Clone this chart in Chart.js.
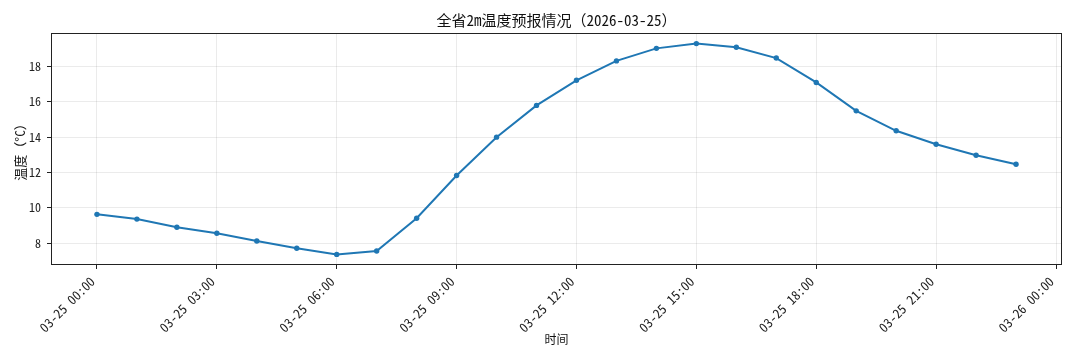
<!DOCTYPE html>
<html><head><meta charset="utf-8">
<script src="https://cdn.jsdelivr.net/npm/chart.js@4"></script>
<style>html,body{margin:0;padding:0;background:#fff}#wrap{width:1080px;height:360px}</style>
</head><body><div id="wrap"><canvas id="c" width="1080" height="360"></canvas></div>
<script>
const titleText = '全省2m温度预报情况（2026-03-25）';
const xTitle = '时间';
const yTitle = '温度（°C）';
const hours = [0,1,2,3,4,5,6,7,8,9,10,11,12,13,14,15,16,17,18,19,20,21,22,23];
const temps = [9.63,9.36,8.90,8.56,8.12,7.71,7.36,7.55,9.41,11.83,14.00,15.80,17.22,18.32,19.03,19.30,19.09,18.48,17.10,15.49,14.36,13.60,12.98,12.47];
const tickHours = [0,3,6,9,12,15,18,21,24];
const tickLabels = ['03-25 00:00','03-25 03:00','03-25 06:00','03-25 09:00','03-25 12:00','03-25 15:00','03-25 18:00','03-25 21:00','03-26 00:00'];
const yTicks = [8,10,12,14,16,18];

const FONT = "'Noto Sans Mono CJK SC','Noto Sans CJK SC','DejaVu Sans',sans-serif";

const framePlugin = {
  id: 'frame',
  afterDraw(chart) {
    const {ctx, chartArea: a} = chart;
    ctx.save();
    ctx.strokeStyle = '#222';
    ctx.lineWidth = 1;
    ctx.strokeRect(Math.round(a.left) + 0.5, Math.round(a.top) + 0.5, Math.round(a.right - a.left) - 1, Math.round(a.bottom - a.top) - 1);
    ctx.fillStyle = '#111';
    ctx.font = "15px " + FONT;
    ctx.textAlign = 'center';
    ctx.textBaseline = 'middle';
    ctx.fillText(titleText, (a.left + a.right) / 2, 20);
    ctx.restore();
  }
};

const gridOpts = {color: 'rgba(0,0,0,0.1)', borderDash: [3, 2], lineWidth: 0.8, drawTicks: true, tickLength: 4, tickColor: '#222', tickWidth: 1, tickBorderDash: []};

new Chart(document.getElementById('c'), {
  type: 'line',
  data: {
    datasets: [{
      data: hours.map((h, i) => ({x: h, y: temps[i]})),
      borderColor: '#1f77b4',
      backgroundColor: '#1f77b4',
      borderWidth: 2,
      pointRadius: 2.7,
      pointHoverRadius: 2.7,
      pointBorderWidth: 0,
      tension: 0,
      fill: false
    }]
  },
  options: {
    responsive: false,
    animation: false,
    devicePixelRatio: 1,
    layout: {padding: {top: 33, right: 18, left: 0, bottom: 0}},
    plugins: {legend: {display: false}, tooltip: {enabled: false}, title: {display: false}},
    scales: {
      x: {
        type: 'linear',
        min: -1.15, max: 24.15,
        afterBuildTicks: s => { s.ticks = tickHours.map(v => ({value: v})); },
        afterFit: s => { s.height = 95; },
        border: {display: false},
        grid: gridOpts,
        ticks: {
          autoSkip: false, minRotation: 45, maxRotation: 45, padding: 0,
          color: '#222', font: {family: FONT, size: 13},
          callback: (v) => { const i = tickHours.indexOf(v); return i >= 0 ? tickLabels[i] + ' ' : ''; }
        },
        title: {display: true, text: xTitle, color: '#111', font: {family: FONT, size: 12}, padding: {top: 0, bottom: 13}}
      },
      y: {
        type: 'linear',
        min: 6.76, max: 19.90,
        afterBuildTicks: s => { s.ticks = yTicks.map(v => ({value: v})); },
        afterFit: s => { s.width = 51; },
        border: {display: false},
        grid: gridOpts,
        ticks: {padding: 6, color: '#222', font: {family: FONT, size: 12}},
        title: {display: true, text: yTitle, color: '#111', font: {family: FONT, size: 13}, padding: {top: 12, bottom: 0}}
      }
    }
  },
  plugins: [framePlugin]
});
</script>
</body></html>
